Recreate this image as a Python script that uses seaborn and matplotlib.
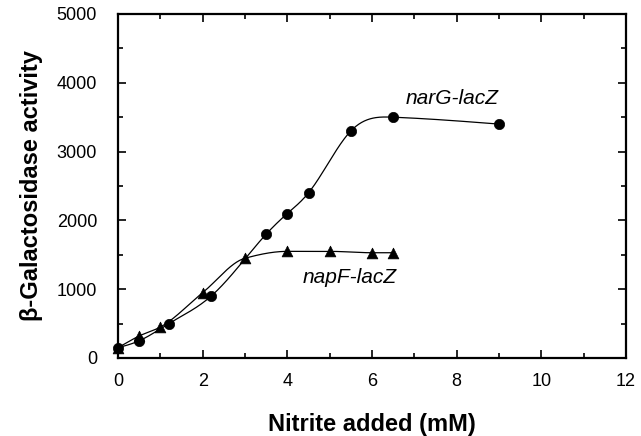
import numpy as np
import pandas as pd
import matplotlib
matplotlib.use("Agg")
import matplotlib.pyplot as plt
import seaborn as sns

# Data
nitrite_narG = [0, 0.5, 1.2, 2.2, 3.5, 4.0, 4.5, 5.5, 6.5, 9.0]
activity_narG = [150, 250, 500, 900, 1800, 2100, 2400, 3300, 3500, 3400]
nitrite_napF = [0, 0.5, 1.0, 2.0, 3.0, 4.0, 5.0, 6.0, 6.5]
activity_napF = [150, 320, 450, 950, 1450, 1550, 1550, 1530, 1530]

x_ticks = [0, 2, 4, 6, 8, 10, 12]
y_ticks = [0, 1000, 2000, 3000, 4000, 5000]


def pchip(x, y, xs):
    x = np.asarray(x, float); y = np.asarray(y, float)
    h = np.diff(x); d = np.diff(y) / h
    n = len(x); m = np.zeros(n)
    for k in range(1, n - 1):
        if d[k - 1] * d[k] > 0:
            w1 = 2 * h[k] + h[k - 1]; w2 = h[k] + 2 * h[k - 1]
            m[k] = (w1 + w2) / (w1 / d[k - 1] + w2 / d[k])
    m[0] = d[0]; m[-1] = d[-1]
    return hermite(x, y, m, xs)


def natural(x, y, xs):
    x = np.asarray(x, float); y = np.asarray(y, float)
    n = len(x); h = np.diff(x)
    A = np.zeros((n, n)); b = np.zeros(n)
    A[0, 0] = 1; A[-1, -1] = 1
    for i in range(1, n - 1):
        A[i, i - 1] = h[i - 1]; A[i, i] = 2 * (h[i - 1] + h[i]); A[i, i + 1] = h[i]
        b[i] = 3 * ((y[i + 1] - y[i]) / h[i] - (y[i] - y[i - 1]) / h[i - 1])
    c = np.linalg.solve(A, b)
    idx = np.clip(np.searchsorted(x, xs) - 1, 0, n - 2)
    bb = (y[1:] - y[:-1]) / h - h * (2 * c[:-1] + c[1:]) / 3
    dd = (c[1:] - c[:-1]) / (3 * h)
    t = xs - x[idx]
    return y[idx] + bb[idx] * t + c[idx] * t**2 + dd[idx] * t**3


def hermite(x, y, m, xs):
    h = np.diff(x); n = len(x)
    idx = np.clip(np.searchsorted(x, xs) - 1, 0, n - 2)
    t = (xs - x[idx]) / h[idx]
    h00 = 2 * t**3 - 3 * t**2 + 1; h10 = t**3 - 2 * t**2 + t
    h01 = -2 * t**3 + 3 * t**2; h11 = t**3 - t**2
    return h00 * y[idx] + h10 * h[idx] * m[idx] + h01 * y[idx + 1] + h11 * h[idx] * m[idx + 1]


sns.set_style("ticks")
plt.rcParams['font.family'] = ['Liberation Sans', 'DejaVu Sans']
plt.rcParams['text.color'] = 'black'
plt.rcParams['axes.labelcolor'] = 'black'
plt.rcParams['xtick.color'] = 'black'
plt.rcParams['ytick.color'] = 'black'
plt.rcParams['axes.edgecolor'] = 'black'

fig = plt.figure(figsize=(6.41, 4.36), dpi=100)
ax = fig.add_axes([118 / 641, 1 - 358 / 436, (626 - 118) / 641, (358 - 14) / 436])

for xs_, ys_, mk, sz, fn in [(nitrite_narG, activity_narG, 'o', 55, natural),
                             (nitrite_napF, activity_napF, '^', 60, pchip)]:
    xd = np.linspace(min(xs_), max(xs_), 400)
    curve = pd.DataFrame({'x': xd, 'y': fn(xs_, ys_, xd)})
    sns.lineplot(data=curve, x='x', y='y', ax=ax, color='black', lw=0.9,
                 sort=False, estimator=None)
    pts = pd.DataFrame({'x': xs_, 'y': ys_})
    sns.scatterplot(data=pts, x='x', y='y', ax=ax, marker=mk, s=sz,
                    color='black', edgecolor='black', linewidth=0.5, zorder=3,
                    clip_on=False)

ax.set_xlim(0, 12)
ax.set_ylim(0, 5000)
ax.set_xticks(x_ticks)
ax.set_yticks(y_ticks)
ax.set_xticks(np.arange(0, 12.01, 1), minor=True)
ax.set_yticks(np.arange(0, 5001, 500), minor=True)
ax.tick_params(which='both', direction='in', top=True, right=True, width=1.2)
ax.tick_params(which='major', length=6)
ax.tick_params(which='minor', length=3.5)
ax.tick_params(axis='x', which='major', labelsize=13, pad=11)
ax.tick_params(axis='y', which='major', labelsize=13, pad=15)
for s in ax.spines.values():
    s.set_linewidth(1.6)
    s.set_visible(True)

ax.set_xlabel('Nitrite added (mM)', fontsize=17, fontweight='bold', labelpad=16)
ax.set_ylabel('β-Galactosidase activity', fontsize=17, fontweight='bold', labelpad=10)

ax.text(7.9, 3770, 'narG-lacZ', fontsize=15, style='italic', ha='center', va='center')
ax.text(5.48, 1175, 'napF-lacZ', fontsize=15, style='italic', ha='center', va='center')

fig.savefig('out.png', dpi=100)
